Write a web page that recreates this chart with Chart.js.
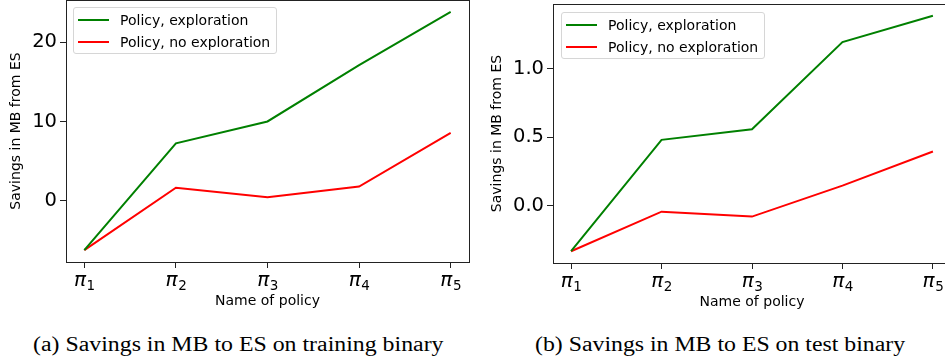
<!DOCTYPE html>
<html>
<head>
<meta charset="utf-8">
<script src="https://cdn.jsdelivr.net/npm/chart.js@4.4.0/dist/chart.umd.min.js"></script>
<style>
  html, body { margin: 0; padding: 0; background: #fff; overflow: hidden; }
  body { width: 945px; height: 364px; position: relative; }
  .box { position: absolute; }
  .legend {
    position: absolute; border: 1px solid #d6d6d6; border-radius: 3px; background: rgba(255,255,255,0.85);
    font-family: "DejaVu Sans", sans-serif; font-size: 14px; color: #000; padding: 1px 6px 1px 4px;
  }
  .legend .row { display: flex; align-items: center; height: 21.7px; }
  .legend .swatch { width: 31px; height: 0; border-top: 2px solid; margin-right: 11px; }
  .caption {
    position: absolute; top: 332px; font-family: "Liberation Serif", "Times New Roman", serif;
    font-size: 20px; line-height: 24px; color: #000; white-space: nowrap;
    transform-origin: 0 0;
  }
</style>
</head>
<body>
<div class="box" id="boxA" style="left:0;top:-1px;width:470px;height:312px"><canvas id="chartA"></canvas></div>
<div class="box" id="boxB" style="left:470px;top:0;width:490px;height:312px"><canvas id="chartB"></canvas></div>
<div class="legend" id="legendA" style="left:73px;top:7px"></div>
<div class="legend" id="legendB" style="left:561px;top:12px"></div>
<div class="caption" id="capA" style="left:33px">(a) Savings in MB to ES on training binary</div>
<div class="caption" id="capB" style="left:535px">(b) Savings in MB to ES on test binary</div>
<script>
// === Data ===
const policyNames = ["1", "2", "3", "4", "5"]; // shown as π with subscript
const seriesNames = ["Policy, exploration", "Policy, no exploration"];
const seriesColors = ["#008000", "#ff0000"];

// (a) training binary
const trainExplore = [-6.2, 7.25, 10.0, 17.1, 23.8];
const trainNoExplore = [-6.2, 1.65, 0.47, 1.8, 8.55];
const trainTicks = [0, 10, 20];

// (b) test binary
const testExplore = [-0.333, 0.48, 0.558, 1.194, 1.386];
const testNoExplore = [-0.333, -0.044, -0.08, 0.146, 0.395];
const testTicks = [0.0, 0.5, 1.0];

// === Helpers ===
const toPoints = arr => arr.map((v, i) => ({ x: i, y: v }));

// matplotlib style 5% margins
function range(a, b) {
  const all = a.concat(b);
  const lo = Math.min(...all), hi = Math.max(...all);
  const m = (hi - lo) * 0.05;
  return [lo - m, hi + m];
}

const frameBorder = {
  id: "frameBorder",
  afterDraw(chart) {
    const { ctx, chartArea: a } = chart;
    ctx.save();
    ctx.strokeStyle = "#222";
    ctx.lineWidth = 1;
    ctx.strokeRect(Math.round(a.left) + 0.5, Math.round(a.top) + 0.5, Math.round(a.right - a.left), Math.round(a.bottom - a.top));
    ctx.restore();
  }
};

// π labels with subscript, like matplotlib mathtext
const piLabels = {
  id: "piLabels",
  afterDraw(chart) {
    const { ctx } = chart;
    const xs = chart.scales.x;
    ctx.save();
    ctx.fillStyle = "#000";
    ctx.textBaseline = "alphabetic";
    ctx.textAlign = "left";
    xs.ticks.forEach((t, i) => {
      const cx = xs.getPixelForTick(i);
      const y = xs.top + 23.5;
      ctx.font = "italic 20px 'DejaVu Sans'";
      const wp = ctx.measureText("π").width;
      ctx.font = "13.5px 'DejaVu Sans'";
      const ws = ctx.measureText(policyNames[i]).width;
      const x0 = cx - (wp + ws) / 2;
      ctx.font = "italic 20px 'DejaVu Sans'";
      ctx.fillText("π", x0, y);
      ctx.font = "13.5px 'DejaVu Sans'";
      ctx.fillText(policyNames[i], x0 + wp + 0.5, y + 4.3);
    });
    ctx.restore();
  }
};

function makeChart(id, s1, s2, yTicks, opts) {
  const [yMin, yMax] = range(s1, s2);
  return new Chart(document.getElementById(id), {
    type: "line",
    data: {
      datasets: [s1, s2].map((s, i) => ({
        label: seriesNames[i],
        data: toPoints(s),
        borderColor: seriesColors[i],
        backgroundColor: seriesColors[i],
        borderWidth: 2,
        pointRadius: 0,
        tension: 0
      }))
    },
    options: {
      responsive: true,
      maintainAspectRatio: false,
      animation: false,
      layout: { padding: opts.padding },
      plugins: { legend: { display: false }, tooltip: { enabled: false } },
      scales: {
        x: {
          type: "linear",
          min: -0.2,
          max: 4.2,
          afterBuildTicks: s => { s.ticks = policyNames.map((p, i) => ({ value: i })); },
          afterFit: s => { s.height = opts.xHeight; s.paddingLeft = 0; s.paddingRight = 0; },
          ticks: { display: false },
          grid: { drawOnChartArea: false, tickLength: 6, tickColor: "#222" },
          border: { color: "#222" },
          title: {
            display: true,
            text: "Name of policy",
            color: "#000",
            padding: { top: 0, bottom: opts.xTitlePad },
            font: { family: "DejaVu Sans", size: 14 }
          }
        },
        y: {
          min: yMin,
          max: yMax,
          afterBuildTicks: s => { s.ticks = yTicks.map(v => ({ value: v })); },
          afterFit: s => { s.width = opts.yWidth; s.paddingTop = 0; s.paddingBottom = 0; },
          ticks: {
            callback: v => opts.fmt(v),
            color: "#000",
            padding: 3,
            font: { family: "DejaVu Sans", size: 19.5 }
          },
          grid: { drawOnChartArea: false, tickLength: 6, tickColor: "#222" },
          border: { color: "#222" },
          title: {
            display: true,
            text: "Savings in MB from ES",
            color: "#000",
            padding: { top: opts.yTitlePad, bottom: 0 },
            font: { family: "DejaVu Sans", size: 14 }
          }
        }
      }
    },
    plugins: [frameBorder, piLabels]
  });
}

function buildLegend(el) {
  el.innerHTML = seriesNames.map((n, i) =>
    `<div class="row"><span class="swatch" style="border-color:${seriesColors[i]}"></span>${n}</div>`
  ).join("");
}

// stretch captions to the width they have in the figure
function fitCaption(id, width) {
  const el = document.getElementById(id);
  el.style.transform = `scaleX(${width / el.offsetWidth})`;
}

makeChart("chartA", trainExplore, trainNoExplore, trainTicks, {
  padding: { top: 1, right: 1, left: 0, bottom: 0 },
  yWidth: 66, xHeight: 49, xTitlePad: 1, yTitlePad: 8,
  fmt: v => String(v)
});
makeChart("chartB", testExplore, testNoExplore, testTicks, {
  padding: { top: 4, right: 9, left: 0, bottom: 0 },
  yWidth: 83, xHeight: 49, xTitlePad: 1, yTitlePad: 19,
  fmt: v => v.toFixed(1)
});
buildLegend(document.getElementById("legendA"));
buildLegend(document.getElementById("legendB"));
fitCaption("capA", 410);
fitCaption("capB", 370);
</script>
</body>
</html>
